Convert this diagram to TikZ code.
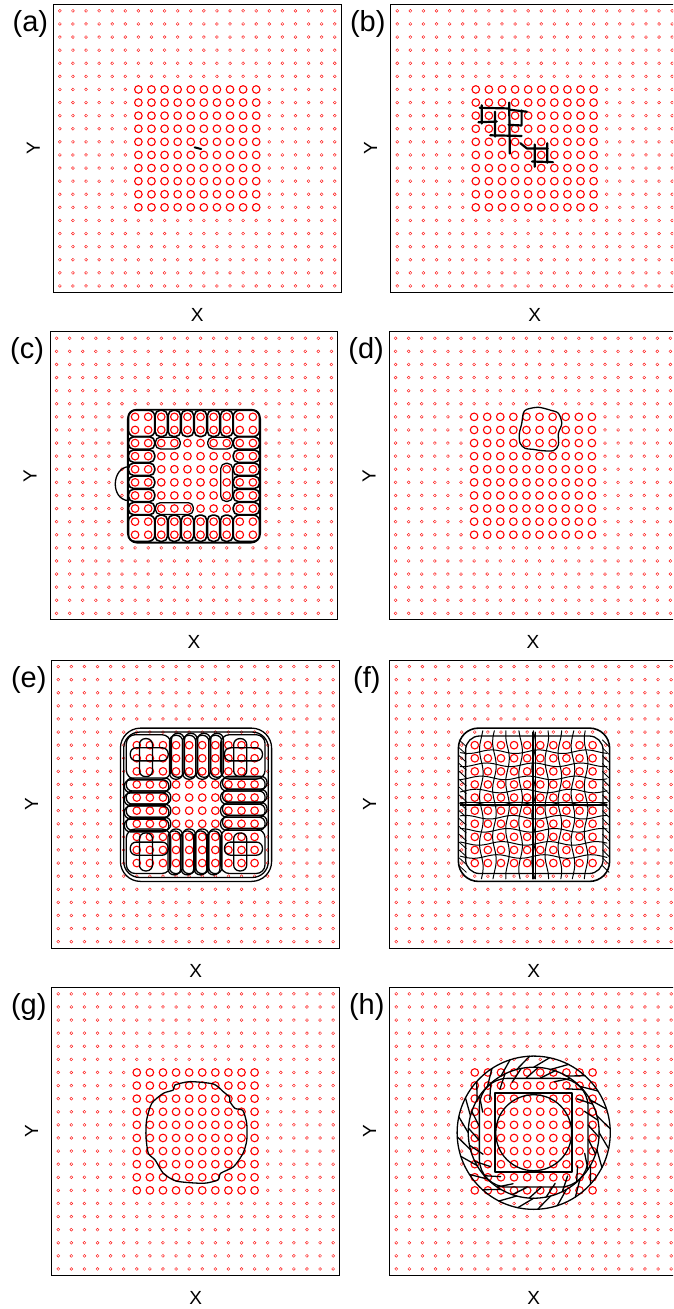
\documentclass[tikz,border=0pt]{standalone}
\usepackage{fontspec}
\setmainfont{Liberation Sans}
\usetikzlibrary{calc}
\tikzset{
  frame/.style={draw=black, line width=1pt},
  dot/.style={draw=red!90, line width=0.45pt},
  bigdot/.style={draw=red, line width=1.1pt},
  contour/.style={draw=black, line width=1.3pt, line join=round, line cap=round},
  tag/.style={inner sep=0pt, font=\fontsize{29}{30}\selectfont},
  axlabel/.style={inner sep=0pt, font=\fontsize{19}{20}\selectfont}
}

\begin{document}
\begin{tikzpicture}[x=1pt, y=-1pt]
  \useasboundingbox (0,0) rectangle (673,1309);
  \clip (0,0) rectangle (673,1309);

  % Panels: frame, lattice of sites, labels
  \foreach \px/\py/\tg in {59.85/10.85/a, 397.25/10.85/b, 56.55/338.25/c, 395.55/338.25/d,
                           58.25/666.55/e, 396.25/666.55/f, 58.25/993.85/g, 396.25/993.85/h}{
    \begin{scope}[shift={(\px,\py)}, x=13.09pt, y=-13.1pt]
      \foreach \i in {0,...,21}
        \foreach \j in {0,...,21}{
          \pgfmathtruncatemacro\inblock{(\i>5)*(\i<16)*(\j>5)*(\j<16)}
          \ifnum\inblock=0 \draw[dot] (\i,\j) circle[radius=0.11]; \fi
        }
      \foreach \i in {6,...,15}
        \foreach \j in {6,...,15}
          \draw[bigdot] (\i,\j) circle[radius=0.29];
      \draw[frame] (-0.5,-0.5) rectangle (21.5,21.5);
      \node[tag] (tag-\tg) at (-2.25,1.0) {(\tg)};
      \node[axlabel, rotate=90] (ylab-\tg) at (-2.03,10.5) {Y};
      \node[axlabel] (xlab-\tg) at (10.5,23.2) {X};
    \end{scope}
  }

  % (a) single seed
  \begin{scope}[shift={(59.85,10.85)}, x=13.09pt, y=-13.1pt]
    \draw[contour, line width=2pt] (10.3,10.42) -- (10.8,10.55);
  \end{scope}

  % (b) cracked squares
  \begin{scope}[shift={(397.25,10.85)}, x=13.09pt, y=-13.1pt]
    \draw[contour, line width=2.2pt]
      (6.45,7.2) -- (6.45,8.6)
      (6.3,7.4) -- (8.5,7.45)
      (8.6,7.55) -- (9.9,7.7)
      (8.55,7.0) -- (8.6,10.9)
      (6.2,8.5) -- (7.6,8.45)
      (7.47,7.7) -- (7.47,9.6)
      (7.1,9.5) -- (9.5,9.55)
      (9.5,7.6) -- (9.5,8.7)
      (8.5,8.7) -- (9.5,8.75)
      (9.4,10.1) -- (9.9,10.5) -- (11.5,10.5)
      (10.5,10.2) -- (10.5,11.9)
      (10.3,11.5) -- (11.9,11.55)
      (11.46,10.1) -- (11.46,11.6);
  \end{scope}

  % (c) outer shell of capsules
  \begin{scope}[shift={(56.55,338.25)}, x=13.09pt, y=-13.1pt]
    \draw[contour, line width=1.8pt, rounded corners=9pt] (5.45,5.45) rectangle (15.55,15.6);
    \foreach \i in {8,...,13}{
      \draw[contour, line width=1.6pt, rounded corners=5pt] (\i-0.47,5.5) rectangle (\i+0.47,7.5);
      \draw[contour, line width=1.6pt, rounded corners=5pt] (\i-0.47,13.5) rectangle (\i+0.47,15.5);
    }
    \foreach \j in {8,...,13}{
      \draw[contour, line width=1.6pt, rounded corners=5pt] (5.5,\j-0.47) rectangle (7.5,\j+0.47);
      \draw[contour, line width=1.6pt, rounded corners=5pt] (13.5,\j-0.47) rectangle (15.5,\j+0.47);
    }
    \foreach \cx/\cy in {5.5/5.5, 13.5/5.5, 5.5/13.5, 13.5/13.5}
      \draw[contour, line width=1.6pt, rounded corners=6pt] (\cx,\cy) rectangle (\cx+2,\cy+2);
    \draw[contour, rounded corners=5pt] (7.55,7.55) rectangle (9.45,8.45);
    \draw[contour, rounded corners=5pt] (11.55,7.55) rectangle (13.45,8.45);
    \draw[contour, rounded corners=5pt] (7.55,12.55) rectangle (10.45,13.45);
    \draw[contour, rounded corners=5pt] (12.55,9.55) rectangle (13.45,12.45);
    % bump on the left
    \draw[contour] (5.5,9.8) .. controls (4.2,9.9) and (4.1,12.3) .. (5.5,12.4);
  \end{scope}

  % (d) one grain
  \begin{scope}[shift={(395.55,338.25)}, x=13.09pt, y=-13.1pt]
    \draw[contour] plot[smooth cycle] coordinates {
      (9.76,5.73) (10.02,5.43) (10.9,5.27) (11.8,5.48) (12.44,5.73) (12.7,6.5)
      (12.44,7.26) (12.44,8.15) (12.06,8.58) (11.17,8.58) (10.52,8.48) (9.89,8.4)
      (9.51,8.0) (9.46,7.26) (9.64,6.5)};
  \end{scope}

  % (e) thick shell of capsules
  \begin{scope}[shift={(58.25,666.55)}, x=13.09pt, y=-13.1pt]
    \draw[contour, rounded corners=20pt] (4.75,4.7) rectangle (16.3,16.4);
    \draw[contour, rounded corners=16pt] (5.0,5.0) rectangle (16.05,16.1);
    \foreach \i in {9,...,12}{
      \draw[contour, rounded corners=6pt] (\i-0.5,5.25) rectangle (\i+0.5,8.6);
      \draw[contour, rounded corners=6pt] (\i-0.35,5.1) rectangle (\i+0.62,8.45);
      \draw[contour, rounded corners=6pt] (\i-0.5,12.4) rectangle (\i+0.5,15.8);
      \draw[contour, rounded corners=6pt] (\i-0.62,12.55) rectangle (\i+0.35,15.9);
    }
    \foreach \j in {9,...,12}{
      \draw[contour, rounded corners=6pt] (5.2,\j-0.5) rectangle (8.6,\j+0.5);
      \draw[contour, rounded corners=6pt] (5.05,\j-0.35) rectangle (8.45,\j+0.62);
      \draw[contour, rounded corners=6pt] (12.4,\j-0.5) rectangle (15.8,\j+0.5);
      \draw[contour, rounded corners=6pt] (12.55,\j-0.62) rectangle (15.95,\j+0.35);
    }
    \foreach \cx/\cy in {5.2/5.2, 12.4/5.2, 5.2/12.4, 12.4/12.4}{
      \draw[contour, rounded corners=9pt] (\cx,\cy) rectangle (\cx+3.4,\cy+3.4);
      \draw[contour, rounded corners=6pt] (\cx+0.3,\cy+1.0) rectangle (\cx+3.2,\cy+2.0);
      \draw[contour, rounded corners=6pt] (\cx+1.0,\cy+0.3) rectangle (\cx+2.0,\cy+3.2);
    }
  \end{scope}

  % (f) distorted mesh
  \begin{scope}[shift={(396.25,666.55)}, x=13.09pt, y=-13.1pt]
    \draw[contour, line width=1.6pt, rounded corners=20pt] (4.75,4.7) rectangle (16.3,16.4);
    \draw[contour, rounded corners=14pt] (5.3,5.3) rectangle (15.8,15.8);
    \foreach \k in {6.5,7.5,...,14.5}{
      \draw[contour, line width=1pt] plot[smooth, domain=4.9:16.1, samples=23]
        (\x,{\k+0.14*sin(100*\x+40*\k)});
      \draw[contour, line width=1pt] plot[smooth, domain=4.9:16.2, samples=23]
        ({\k+0.14*sin(100*\x+55*\k)},\x);
    }
    \foreach \d in {-0.12,0,0.12}{
      \draw[contour, line width=1pt] (10.5+\d,5.0) -- (10.5+\d,16.2);
      \draw[contour, line width=1pt] (4.9,10.5+\d) -- (16.1,10.5+\d);
    }
    \foreach \t in {5.6,6.2,...,15.2}{
      \draw[contour, line width=0.8pt] (4.8,\t) -- (5.35,\t+0.5);
      \draw[contour, line width=0.8pt] (15.75,\t) -- (16.25,\t+0.5);
    }
  \end{scope}

  % (g) round grain
  \begin{scope}[shift={(58.25,993.85)}, x=13.09pt, y=-13.1pt]
    \draw[contour] plot[smooth cycle, tension=0.4] coordinates {
      (8.79,7.34) (8.91,6.96) (10.06,6.7) (11.85,6.88) (12.61,7.47) (13.1,7.9)
      (13.1,8.2) (13.5,8.74) (14.1,8.9) (14.4,9.9) (14.4,11.2) (14.1,12.2)
      (13.4,13.19) (12.4,13.7) (12.2,14.2) (11.1,14.46) (9.05,14.3) (8.03,13.7)
      (7.4,12.68) (6.88,12.17) (6.7,10.9) (6.75,9.63) (7.14,8.36) (8.03,7.59)};
  \end{scope}

  % (h) twisted rings
  \begin{scope}[shift={(396.25,993.85)}, x=13.09pt, y=-13.1pt]
    \coordinate (hc) at (10.5,10.6);
    \draw[contour] (hc) circle[radius=5.85];
    \draw[contour] (hc) circle[radius=5.0];
    \draw[contour, rounded corners=28pt] (6.35,6.45) rectangle (14.65,14.75);
    \draw[contour, line width=2pt] (7.55,7.6) rectangle (13.4,13.57);
    \draw[contour] (hc) circle[radius=2.9];
    \foreach \t in {0,15,...,345}{
      \draw[contour] ($(hc)+(\t:5.0)$) -- ($(hc)+(\t+12:5.85)$);
      \draw[contour] ($(hc)+(\t+7:4.2)$) -- ($(hc)+(\t+19:5.0)$);
    }
  \end{scope}
\end{tikzpicture}
\end{document}
